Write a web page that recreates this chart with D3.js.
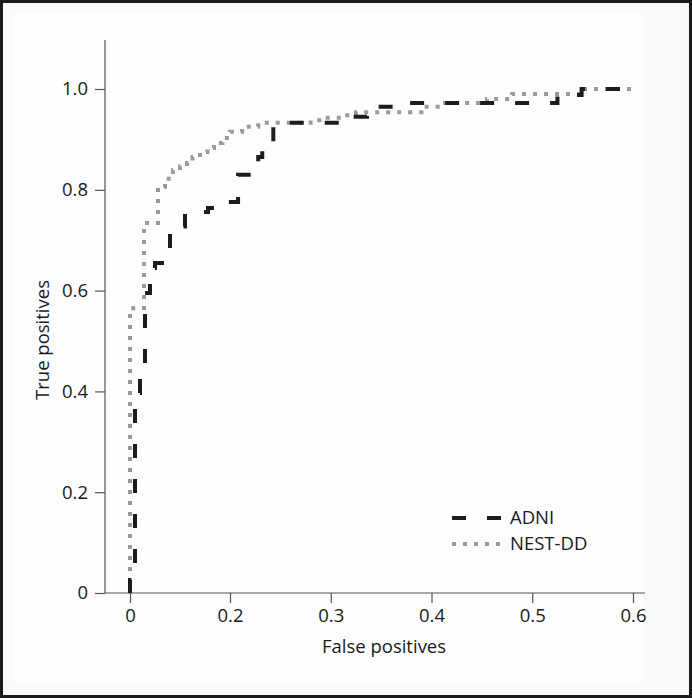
<!DOCTYPE html>
<html><head><meta charset="utf-8">
<script src="https://cdn.jsdelivr.net/npm/d3@7"></script>
<style>html,body{margin:0;padding:0;background:#fff}svg{display:block}</style>
</head><body>
<script>
// ---- data ----
const xTicks = [0, 0.2, 0.3, 0.4, 0.5, 0.6];
const xTickLabels = ["0", "0.2", "0.3", "0.4", "0.5", "0.6"];
const yTicks = [0, 0.2, 0.4, 0.6, 0.8, 1.0];
const yTickLabels = ["0", "0.2", "0.4", "0.6", "0.8", "1.0"];
const seriesNames = ["ADNI", "NEST-DD"];

const adniFPR = [0,0,0.01,0.01,0.02,0.02,0.03,0.03,0.04,0.04,0.05,0.05,0.064,0.064,0.074,0.074,0.08,0.08,0.1,0.1,0.11,0.11,0.156,0.156,0.194,0.194,0.208,0.208,0.228,0.228,0.232,0.232,0.243,0.243,0.312,0.312,0.336,0.336,0.378,0.378,0.525,0.525,0.549,0.549,0.6];
const adniTPR = [0,0.026,0.026,0.397,0.397,0.452,0.452,0.595,0.595,0.645,0.645,0.655,0.655,0.665,0.665,0.675,0.675,0.716,0.716,0.727,0.727,0.756,0.756,0.764,0.764,0.776,0.776,0.83,0.83,0.865,0.865,0.885,0.885,0.933,0.933,0.945,0.945,0.965,0.965,0.972,0.972,0.988,0.988,1.0,1.0];

const nestFPR = [0,0,0.028,0.028,0.056,0.056,0.07,0.07,0.086,0.086,0.1,0.1,0.114,0.114,0.125,0.125,0.14,0.14,0.155,0.155,0.168,0.168,0.185,0.185,0.2,0.2,0.212,0.212,0.228,0.228,0.28,0.28,0.295,0.295,0.31,0.31,0.325,0.325,0.39,0.39,0.41,0.41,0.455,0.455,0.48,0.48,0.55,0.55,0.6];
const nestTPR = [0,0.565,0.565,0.734,0.734,0.806,0.806,0.822,0.822,0.839,0.839,0.846,0.846,0.853,0.853,0.865,0.865,0.875,0.875,0.883,0.883,0.893,0.893,0.903,0.903,0.915,0.915,0.925,0.925,0.933,0.933,0.938,0.938,0.943,0.943,0.948,0.948,0.954,0.954,0.965,0.965,0.972,0.972,0.98,0.98,0.99,0.99,1.0,1.0];

// ---- layout ----
const W = 692, H = 698;
const FONT = "'Open Sans', sans-serif";
const FS = 18.5;
const TXT = "#1a1a1a";
const svg = d3.select("body").append("svg").attr("width", W).attr("height", H);

svg.append("rect").attr("x",0).attr("y",0).attr("width",W).attr("height",H).attr("fill","#1a1a1a");
svg.append("rect").attr("x",3).attr("y",3).attr("width",W-6).attr("height",H-6).attr("fill","#f9f9f9");
svg.append("rect").attr("x",13).attr("y",13).attr("width",630).attr("height",670).attr("fill","#fdfdfd");

const x = d3.scaleLinear().domain([0, 0.2, 0.6]).range([130, 230, 633]);
const y = d3.scaleLinear().domain([0, 1]).range([593, 89]);

const axisColor = "#555";

// y axis
const gy = svg.append("g").attr("transform","translate(105,0)")
  .call(d3.axisLeft(y).tickValues(yTicks).tickFormat((d,i)=>yTickLabels[i]).tickSize(10).tickSizeOuter(0).tickPadding(7));
gy.select(".domain").remove();
gy.append("line").attr("x1",0).attr("x2",0).attr("y1",40).attr("y2",593);

// x axis
const gx = svg.append("g").attr("transform","translate(0,593)")
  .call(d3.axisBottom(x).tickValues(xTicks).tickFormat((d,i)=>xTickLabels[i]).tickSize(10).tickSizeOuter(0).tickPadding(6));
gx.select(".domain").remove();
gx.append("line").attr("x1",105).attr("x2",645).attr("y1",0).attr("y2",0);

[gx, gy].forEach(g => {
  g.selectAll("line").attr("stroke", axisColor).attr("stroke-width", 1.2);
  g.selectAll("text").attr("font-family", FONT).attr("font-size", FS).attr("fill", TXT);
});

// axis titles
svg.append("text").attr("x", 384).attr("y", 653).attr("text-anchor","middle")
  .attr("font-family", FONT).attr("font-size", FS).attr("fill",TXT).text("False positives");
svg.append("text").attr("transform","translate(49,340) rotate(-90)").attr("text-anchor","middle")
  .attr("font-family", FONT).attr("font-size", FS).attr("fill",TXT).text("True positives");

// curves
const line = d3.line().x(d => x(d[0])).y(d => y(d[1]));
const adni = adniFPR.map((v,i)=>[v, adniTPR[i]]);
const nest = nestFPR.map((v,i)=>[v, nestTPR[i]]);

const styles = [
  {color:"#9a9a9a", dash:"4,7", width:4},
  {color:"#1c1c1c", dash:"14,21", width:4}
];
svg.append("path").datum(nest).attr("d", line).attr("fill","none")
  .attr("stroke", styles[0].color).attr("stroke-width", styles[0].width).attr("stroke-dasharray", styles[0].dash);
svg.append("path").datum(adni).attr("d", line).attr("fill","none")
  .attr("stroke", styles[1].color).attr("stroke-width", styles[1].width).attr("stroke-dasharray", styles[1].dash);

// legend
const legend = svg.append("g");
const legStyles = [styles[1], styles[0]];
seriesNames.forEach((name, i) => {
  const ly = 518 + i*26;
  legend.append("line").attr("x1",452).attr("x2",502).attr("y1",ly).attr("y2",ly)
    .attr("stroke", legStyles[i].color).attr("stroke-width", legStyles[i].width).attr("stroke-dasharray", legStyles[i].dash);
  legend.append("text").attr("x",510).attr("y",ly).attr("dy","0.35em")
    .attr("font-family", FONT).attr("font-size", FS).attr("fill",TXT).text(name);
});
</script>
</body></html>
